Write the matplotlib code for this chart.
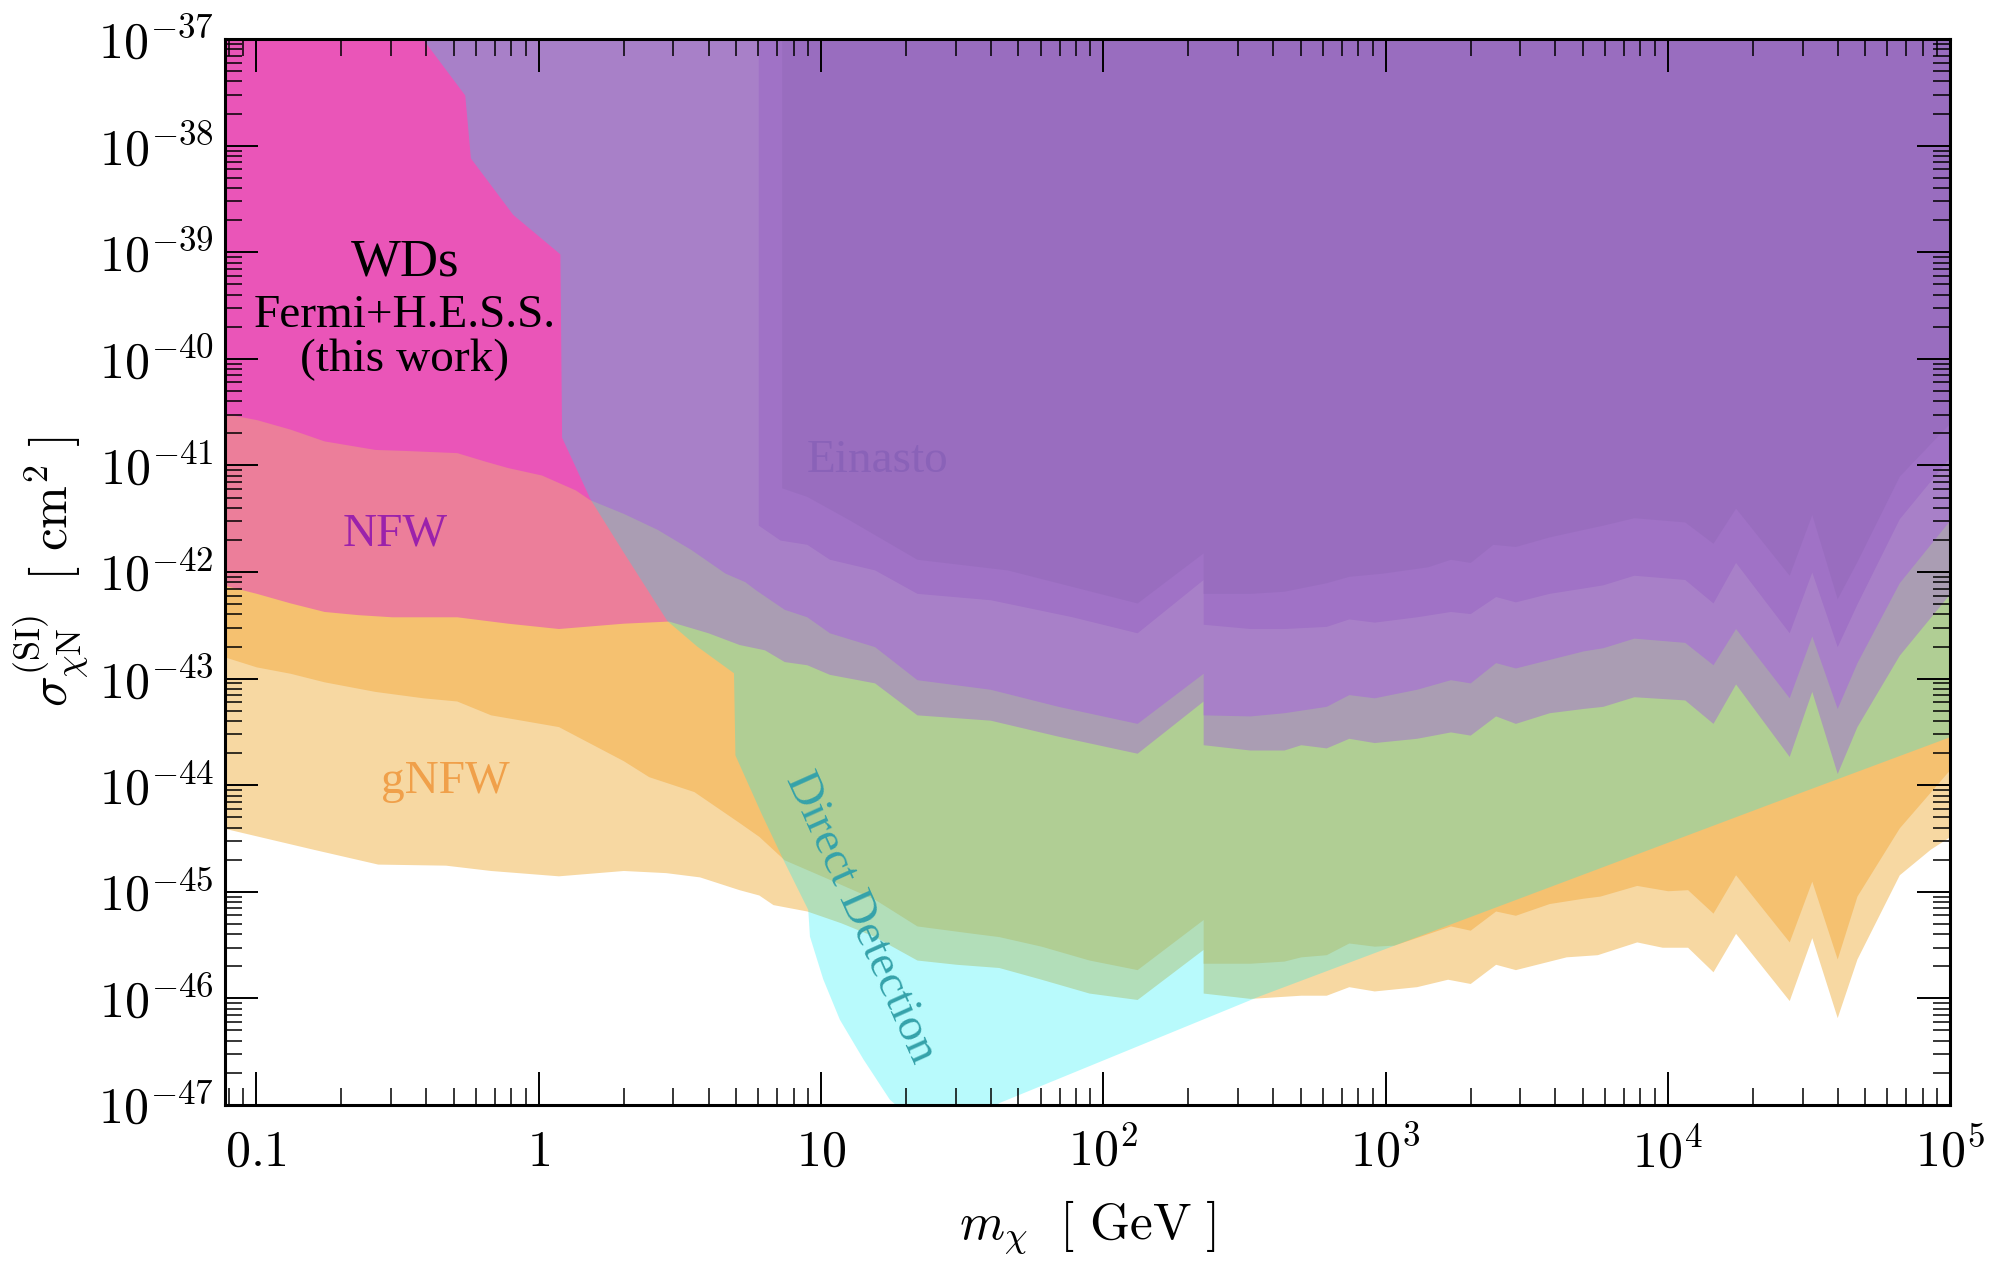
import numpy as np
import matplotlib
matplotlib.use("Agg")
import matplotlib.pyplot as plt
from matplotlib.ticker import FixedLocator, FixedFormatter, LogLocator, NullFormatter

plt.rcParams['mathtext.fontset'] = 'cm'
plt.rcParams['font.family'] = ['Liberation Serif', 'DejaVu Serif']

# limits: log10(m_chi / GeV) and log10(sigma / cm^2)
# gNFW, lower (light) and upper (dark) band
gnfw_lo_m = [-1.12, -0.96, -0.80, -0.57, -0.33, -0.17, 0.07, 0.30, 0.45, 0.57, 0.71, 0.78, 0.83,
             0.95, 1.07, 1.19, 1.34, 1.48, 1.63, 1.78, 1.95, 2.12, 2.354, 2.354, 2.52, 2.70, 2.79,
             2.87, 2.96, 3.11, 3.22, 3.30, 3.39, 3.46, 3.58, 3.64, 3.75, 3.89, 3.98, 4.07, 4.16,
             4.24, 4.43, 4.51, 4.60, 4.67, 4.82, 4.93, 5.0]
gnfw_lo_s = [-44.40, -44.50, -44.60, -44.74, -44.75, -44.80, -44.85, -44.80, -44.82, -44.86, -44.98,
             -45.03, -45.12, -45.18, -45.29, -45.42, -45.64, -45.68, -45.71, -45.82, -45.95, -46.01,
             -45.54, -45.95, -46.00, -45.97, -45.97, -45.89, -45.93, -45.89, -45.82, -45.86, -45.68,
             -45.73, -45.65, -45.61, -45.59, -45.47, -45.52, -45.52, -45.75, -45.39, -46.02, -45.43,
             -46.18, -45.63, -44.84, -44.60, -44.48]

gnfw_hi_m = [-1.12, -1.00, -0.88, -0.76, -0.58, -0.41, -0.29, -0.17, 0.07, 0.30, 0.39, 0.55, 0.71,
             0.78, 0.87, 1.01, 1.19, 1.34, 1.54, 1.63, 1.78, 1.95, 2.12, 2.354, 2.354, 2.52, 2.64,
             2.70, 2.79, 2.87, 2.96, 3.03, 3.23, 3.30, 3.39, 3.46, 3.58, 3.70, 3.76, 3.89, 4.00,
             4.07, 4.16, 4.24, 4.43, 4.51, 4.60, 4.67, 4.82, 5.0]
gnfw_hi_s = [-42.79, -42.89, -42.95, -43.03, -43.12, -43.18, -43.21, -43.34, -43.45, -43.77, -43.92,
             -44.06, -44.35, -44.48, -44.70, -44.86, -45.07, -45.32, -45.39, -45.42, -45.51, -45.64,
             -45.73, -45.26, -45.67, -45.67, -45.65, -45.61, -45.59, -45.48, -45.51, -45.50, -45.32,
             -45.36, -45.18, -45.22, -45.11, -45.06, -45.04, -44.94, -44.99, -44.98, -45.20, -44.84,
             -45.47, -44.90, -45.63, -45.04, -44.40, -43.85]

# NFW
nfw_lo_m = [-1.12, -1.00, -0.88, -0.76, -0.64, -0.52, -0.29, -0.11, 0.07, 0.30, 0.46, 0.60, 0.71,
            0.80, 0.87, 0.95, 1.03, 1.19, 1.34, 1.60, 1.84, 2.12, 2.354, 2.354, 2.52, 2.64, 2.70,
            2.79, 2.87, 2.96, 3.11, 3.23, 3.30, 3.39, 3.46, 3.58, 3.70, 3.77, 3.88, 4.06, 4.16,
            4.24, 4.43, 4.51, 4.60, 4.67, 4.82, 5.0]
nfw_lo_s = [-42.12, -42.20, -42.29, -42.37, -42.40, -42.42, -42.42, -42.48, -42.53, -42.48, -42.46,
            -42.57, -42.68, -42.73, -42.84, -42.87, -42.96, -43.04, -43.34, -43.39, -43.54, -43.70,
            -43.21, -43.62, -43.67, -43.67, -43.62, -43.65, -43.56, -43.60, -43.56, -43.50, -43.53,
            -43.35, -43.42, -43.32, -43.28, -43.26, -43.17, -43.20, -43.42, -43.05, -43.73, -43.12,
            -43.89, -43.45, -42.78, -42.20]

nfw_hi_m = [-1.12, -1.00, -0.88, -0.76, -0.58, -0.47, -0.29, -0.19, -0.11, 0.01, 0.13, 0.18, 0.30,
            0.42, 0.54, 0.66, 0.73, 0.77, 0.87, 0.95, 1.03, 1.19, 1.34, 1.60, 1.84, 2.12, 2.354,
            2.354, 2.52, 2.64, 2.79, 2.87, 2.96, 3.11, 3.23, 3.30, 3.39, 3.46, 3.58, 3.70, 3.77,
            3.88, 4.06, 4.16, 4.24, 4.43, 4.51, 4.60, 4.67, 4.82, 5.0]
nfw_hi_s = [-40.51, -40.57, -40.66, -40.77, -40.85, -40.86, -40.88, -40.96, -41.02, -41.09, -41.23,
            -41.32, -41.45, -41.60, -41.79, -42.01, -42.09, -42.17, -42.35, -42.42, -42.57, -42.70,
            -43.01, -43.10, -43.26, -43.42, -42.95, -43.34, -43.35, -43.32, -43.26, -43.15, -43.18,
            -43.10, -43.01, -43.04, -42.85, -42.90, -42.82, -42.74, -42.71, -42.62, -42.66, -42.87,
            -42.53, -43.18, -42.60, -43.28, -42.85, -42.10, -41.51]

# Einasto
ein_lo_m = [0.778, 0.855, 0.95, 1.03, 1.19, 1.34, 1.60, 1.89, 2.12, 2.354, 2.354, 2.52, 2.64, 2.79,
            2.87, 2.96, 3.11, 3.23, 3.30, 3.39, 3.46, 3.58, 3.70, 3.77, 3.88, 4.06, 4.16, 4.24,
            4.43, 4.51, 4.60, 4.67, 4.82, 5.0]
ein_lo_s = [-41.56, -41.70, -41.74, -41.88, -41.98, -42.20, -42.26, -42.42, -42.57, -42.07, -42.49,
            -42.53, -42.53, -42.51, -42.44, -42.47, -42.42, -42.37, -42.39, -42.23, -42.28, -42.20,
            -42.15, -42.12, -42.03, -42.07, -42.29, -41.91, -42.57, -42.00, -42.70, -42.30, -41.50,
            -40.92]

ein_hi_m = [0.861, 0.95, 1.10, 1.34, 1.66, 2.12, 2.354, 2.354, 2.52, 2.64, 2.79, 2.87, 2.99, 3.15,
            3.23, 3.30, 3.38, 3.46, 3.58, 3.70, 3.77, 3.88, 4.06, 4.16, 4.24, 4.43, 4.51, 4.60,
            4.67, 4.82, 5.0]
ein_hi_s = [-41.21, -41.29, -41.51, -41.88, -41.98, -42.29, -41.82, -42.20, -42.20, -42.18, -42.10,
            -42.04, -42.01, -41.95, -41.88, -41.91, -41.74, -41.76, -41.67, -41.60, -41.56, -41.49,
            -41.53, -41.73, -41.40, -42.03, -41.46, -42.25, -41.90, -41.10, -40.60]

# direct detection: low-mass wall, then the floor
dd_m = [-0.41, -0.26, -0.24, -0.09, 0.077, 0.083, 0.125, 0.184, 0.302, 0.456, 0.562, 0.692, 0.697,
        0.790, 0.867, 0.955, 0.961, 1.008, 1.067, 1.150, 1.244, 1.35, 1.50, 1.634, 2.555, 4.362, 5.0]
dd_s = [-37.0, -37.53, -38.12, -38.65, -39.02, -40.74, -40.98, -41.32, -41.82, -42.46, -42.70,
        -42.95, -43.72, -44.27, -44.70, -45.17, -45.42, -45.82, -46.20, -46.57, -46.95, -47.2,
        -47.2, -46.98, -45.98, -44.18, -43.55]

xticks = [0.1, 1, 10, 1e2, 1e3, 1e4, 1e5]
xtick_labels = [r'$0.1$', r'$1$', r'$10$', r'$10^2$', r'$10^3$', r'$10^4$', r'$10^5$']
yexp = list(range(-47, -36))
ytick_labels = [r'$10^{%d}$' % k for k in yexp]

bands = [
    (gnfw_lo_m, gnfw_lo_s, '#F7D8A2'),
    (gnfw_hi_m, gnfw_hi_s, '#F5C170'),
    (nfw_lo_m, nfw_lo_s, '#EC7E9A'),
    (nfw_hi_m, nfw_hi_s, '#EA55B8'),
    (ein_lo_m, ein_lo_s, '#DE42B4'),
    (ein_hi_m, ein_hi_s, '#D43BAB'),
]

fig = plt.figure(figsize=(19.95, 12.63), dpi=100)
ax = fig.add_axes([0.1128, 0.1251, 0.8647, 0.8440])
ax.set_xscale('log')
ax.set_yscale('log')

top = 1e-36
for m, s, c in bands:
    ax.fill_between(10.0 ** np.array(m), 10.0 ** np.array(s), top, color=c, lw=0)

# close the DD polygon above the plot
ddx = np.r_[10.0 ** np.array(dd_m), 10 ** 5.1, 10 ** 5.1, 10.0 ** dd_m[0]]
ddy = np.r_[10.0 ** np.array(dd_s), 10.0 ** dd_s[-1], top, top]
ax.fill(ddx, ddy, color='#00F0F5', alpha=0.28, lw=0)

ax.set_xlim(10 ** -1.111, 1e5)
ax.set_ylim(1e-47, 1e-37)

ax.text(10 ** -0.474, 10 ** -39.10, 'WDs', fontsize=38, ha='center', va='center')
ax.text(10 ** -0.474, 10 ** -39.60, 'Fermi+H.E.S.S.', fontsize=34, ha='center', va='center')
ax.text(10 ** -0.474, 10 ** -40.01, '(this work)', fontsize=34, ha='center', va='center')
ax.text(10 ** -0.51, 10 ** -41.65, 'NFW', fontsize=34, color='#9B22AB', ha='center', va='center')
ax.text(10 ** -0.33, 10 ** -43.97, 'gNFW', fontsize=34, color='#F0A04A', ha='center', va='center')
ax.text(10 ** 1.20, 10 ** -40.96, 'Einasto', fontsize=34, color='#8A62B8', ha='center', va='center')
ax.text(10 ** 1.138, 10 ** -45.24, 'Direct Detection', fontsize=34, color='#35A2AA',
        ha='center', va='center', rotation=-65.9, rotation_mode='anchor')

ax.xaxis.set_major_locator(FixedLocator(xticks))
ax.xaxis.set_major_formatter(FixedFormatter(xtick_labels))
ax.yaxis.set_major_locator(FixedLocator([10.0 ** k for k in yexp]))
ax.yaxis.set_major_formatter(FixedFormatter(ytick_labels))
for axis in (ax.xaxis, ax.yaxis):
    axis.set_minor_locator(LogLocator(base=10, subs=np.arange(2, 10), numticks=100))
    axis.set_minor_formatter(NullFormatter())

ax.tick_params(which='both', direction='in', top=True, right=True)
ax.tick_params(which='major', length=24, width=1.4, labelsize=36, pad=8)
ax.tick_params(which='minor', length=12, width=1.1)
ax.tick_params(axis='x', which='major', pad=44)
for lab in ax.get_xticklabels():
    lab.set_verticalalignment('baseline')
for sp in ax.spines.values():
    sp.set_linewidth(2.2)

ax.set_xlabel(r'$m_\chi\ \ [\ \mathrm{GeV}\ ]$', fontsize=37)
ax.set_ylabel(r'$\sigma_{\chi\mathrm{N}}^{\mathrm{(SI)}}\ \ [\ \mathrm{cm}^2\ ]$', fontsize=37)
ax.xaxis.label.set_va('center')
ax.yaxis.label.set_va('center')
ax.xaxis.set_label_coords(0.5, -0.115)
ax.yaxis.set_label_coords(-0.101, 0.5)

fig.savefig('out.png', dpi=100)
